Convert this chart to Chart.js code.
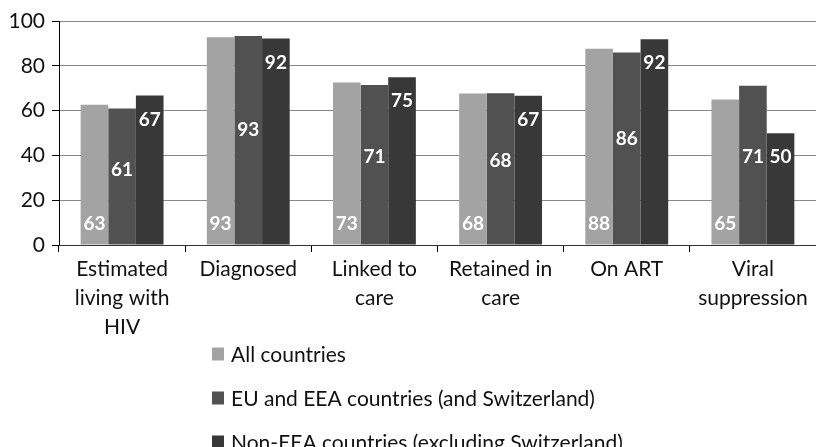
<!DOCTYPE html>
<html>
<head>
<meta charset="utf-8">
<script src="https://cdn.jsdelivr.net/npm/chart.js@4"></script>
<style>
html,body{margin:0;padding:0;background:#fff;overflow:hidden;}
#wrap{width:816px;height:447px;position:relative;}
</style>
</head>
<body>
<div id="wrap"><canvas id="c" width="816" height="447"></canvas></div>
<script>
const categories = [
  ["Estimated", "living with", "HIV"],
  ["Diagnosed"],
  ["Linked to", "care"],
  ["Retained in", "care"],
  ["On ART"],
  ["Viral", "suppression"]
];
const seriesNames = [
  "All countries",
  "EU and EEA countries (and Switzerland)",
  "Non-EEA countries (excluding Switzerland)"
];
const allCountries = [62.6, 92.7, 72.5, 67.6, 87.6, 64.9];
const euEea = [60.9, 93.3, 71.4, 67.7, 85.9, 71.1];
const nonEea = [66.7, 92.2, 74.9, 66.6, 91.8, 49.9];
const yTicks = [0, 20, 40, 60, 80, 100];

const colors = ["#a3a3a3", "#515151", "#383838"];
const FONT = "Lato, 'Open Sans', sans-serif";

const valueLabels = {
  id: "valueLabels",
  afterDatasetsDraw(chart) {
    const ctx = chart.ctx;
    ctx.save();
    ctx.fillStyle = "#ffffff";
    ctx.font = "bold 19px " + FONT;
    ctx.textAlign = "center";
    ctx.textBaseline = "middle";
    chart.data.datasets.forEach((ds, di) => {
      const meta = chart.getDatasetMeta(di);
      meta.data.forEach((bar, i) => {
        const v = ds.data[i];
        let y;
        if (di === 0) y = bar.base - 21;
        else if (di === 1) y = bar.base - 0.55 * (bar.base - bar.y);
        else y = bar.y + 24;
        ctx.fillText(String(Math.round(v)), bar.x, y);
      });
    });
    ctx.restore();
  }
};

const customLegend = {
  id: "customLegend",
  afterDraw(chart) {
    const ctx = chart.ctx;
    ctx.save();
    ctx.font = "21px " + FONT;
    ctx.textBaseline = "middle";
    ctx.textAlign = "left";
    chart.data.datasets.forEach((ds, i) => {
      const cy = 354.5 + i * 44;
      ctx.fillStyle = ds.backgroundColor;
      ctx.fillRect(212, cy - 7, 12, 13);
      ctx.fillStyle = "#111";
      ctx.fillText(ds.label, 231, cy + 1);
    });
    ctx.restore();
  }
};

new Chart(document.getElementById("c"), {
  type: "bar",
  data: {
    labels: categories,
    datasets: [
      { label: seriesNames[0], data: allCountries, backgroundColor: colors[0] },
      { label: seriesNames[1], data: euEea, backgroundColor: colors[1] },
      { label: seriesNames[2], data: nonEea, backgroundColor: colors[2] }
    ]
  },
  options: {
    responsive: false,
    animation: false,
    devicePixelRatio: 1,
    layout: { padding: { top: 21, right: 0, bottom: 0, left: 0 } },
    datasets: { bar: { categoryPercentage: 0.657, barPercentage: 1.0 } },
    plugins: {
      legend: { display: false },
      tooltip: { enabled: false },
      title: { display: false }
    },
    scales: {
      x: {
        grid: {
          offset: true,
          drawOnChartArea: false,
          drawTicks: true,
          tickLength: 7,
          tickColor: "#000",
          lineWidth: 1
        },
        border: { color: "#333", width: 1 },
        ticks: {
          color: "#111",
          font: { family: FONT, size: 21, lineHeight: 1.37 },
          padding: 3,
          maxRotation: 0,
          autoSkip: false
        },
        afterFit(scale) {
          scale.height = 202;
          scale.paddingLeft = 0;
          scale.paddingRight = 0;
        }
      },
      y: {
        min: 0,
        max: 100,
        afterBuildTicks(scale) {
          scale.ticks = yTicks.map(v => ({ value: v }));
        },
        grid: {
          color: "#8a8a8a",
          lineWidth: 1,
          tickLength: 7,
          tickColor: "#000"
        },
        border: { color: "#000", width: 1 },
        ticks: {
          color: "#111",
          font: { family: FONT, size: 21 },
          padding: 7
        },
        afterFit(scale) {
          scale.width = 59;
          scale.paddingTop = 0;
          scale.paddingBottom = 0;
        }
      }
    }
  },
  plugins: [valueLabels, customLegend]
});
</script>
</body>
</html>
